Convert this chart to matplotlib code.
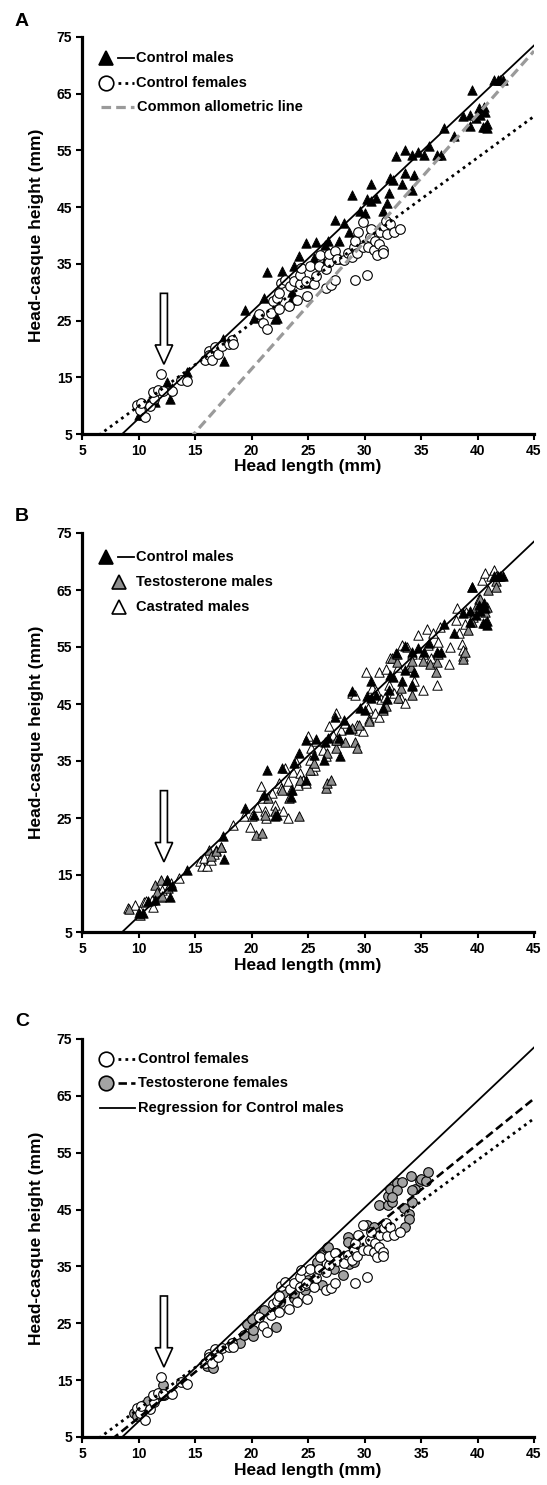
import matplotlib
matplotlib.use("Agg")
import matplotlib.pyplot as plt
from matplotlib.patches import FancyArrow
import numpy as np

plt.rcParams['font.family'] = ['Liberation Sans', 'DejaVu Sans']

# ---------------- data ----------------
ctrl_male_x = [10.0, 10.8, 12.5, 12.8, 13.0, 14.3, 17.5, 17.6, 19.4, 20.2, 21.1, 22.3, 21.4, 22.7,
               23.6, 23.5, 23.8, 24.2, 24.8, 25.7, 24.8, 25.5, 26.5, 26.8, 27.7, 28.6, 27.4, 28.2,
               29.6, 30.0, 30.2, 30.6, 31.6, 32.0, 28.9, 30.6, 31.0, 32.2, 32.3, 32.5, 33.3, 33.6,
               34.4, 34.2, 32.8, 33.6, 34.2, 34.7, 35.3, 35.7, 36.4, 36.8, 37.0, 37.9, 38.7, 39.3,
               39.3, 39.5, 39.9, 40.1, 40.2, 40.5, 40.6, 40.7, 40.7, 40.8, 40.8, 41.5, 41.8, 42.0,
               42.3, 10.4, 11.5, 22.1, 26.4, 27.8]
ctrl_male_y = [8.4, 10.5, 14.1, 11.2, 13.1, 15.9, 21.8, 17.8, 26.8, 25.5, 29.0, 25.5, 33.5, 33.7,
               30.0, 28.7, 34.6, 36.4, 38.7, 38.8, 31.6, 36.1, 38.4, 39.0, 39.0, 40.6, 42.8, 42.2,
               44.3, 44.0, 46.4, 46.0, 44.3, 45.8, 47.2, 49.0, 46.6, 47.5, 50.1, 49.8, 49.0, 51.0,
               50.7, 48.1, 54.0, 55.1, 54.2, 54.8, 54.2, 55.7, 54.2, 54.2, 59.0, 57.5, 61.0, 61.3,
               59.3, 65.6, 60.7, 62.4, 61.3, 59.2, 62.7, 61.8, 59.2, 59.6, 58.9, 67.5, 67.5, 67.5,
               67.5, 8.3, 10.7, 25.3, 35.2, 35.8]

ctrl_female_x = [9.9, 10.1, 10.2, 10.6, 11.0, 11.4, 11.3, 11.7, 12.0, 12.2, 13.0, 13.8, 14.3, 15.9,
                 16.2, 16.2, 16.5, 16.8, 17.0, 17.4, 18.0, 18.3, 18.4, 20.7, 21.0, 21.4, 21.7, 21.9,
                 22.3, 22.4, 22.6, 22.4, 23.0, 23.3, 23.4, 23.8, 24.0, 24.3, 24.3, 24.4, 24.8, 24.9,
                 25.2, 25.5, 25.7, 26.0, 26.1, 26.6, 26.6, 26.9, 26.9, 27.0, 27.4, 27.4, 27.6, 28.2,
                 28.5, 28.9, 29.1, 29.2, 29.3, 29.2, 29.4, 29.9, 30.2, 30.3, 30.5, 30.6, 30.8, 30.9,
                 31.1, 31.3, 31.4, 31.6, 31.7, 31.9, 32.0, 32.3, 32.6, 33.1, 31.6, 29.9]
ctrl_female_y = [10.1, 9.3, 10.4, 8.0, 9.9, 11.1, 12.4, 12.8, 15.5, 12.5, 12.5, 14.6, 14.3, 18.1,
                 19.6, 19.0, 18.1, 20.4, 19.1, 20.6, 20.9, 21.6, 20.8, 26.1, 24.6, 23.5, 26.4, 28.4,
                 29.0, 29.8, 31.6, 27.0, 32.2, 27.5, 31.1, 32.0, 28.7, 31.4, 33.1, 34.3, 32.0, 29.3,
                 34.6, 31.4, 32.9, 34.6, 36.6, 30.8, 34.1, 35.3, 36.8, 31.2, 32.1, 37.3, 35.9, 35.6,
                 37.0, 36.2, 37.9, 32.1, 36.9, 39.1, 40.6, 37.9, 33.1, 37.9, 39.7, 41.1, 37.5, 39.1,
                 36.6, 38.5, 40.6, 37.5, 41.7, 42.6, 40.3, 42.0, 40.6, 41.1, 36.9, 42.3]

testo_male_x = [9.2, 10.1, 11.5, 11.6, 12.0, 12.1, 12.6, 16.2, 16.4, 16.9, 17.3, 20.4, 20.9, 21.2,
                21.5, 22.1, 22.7, 23.3, 24.2, 24.3, 25.2, 25.5, 26.6, 26.7, 27.0, 26.7, 27.5, 27.5,
                28.3, 28.9, 29.2, 29.3, 29.5, 30.4, 31.6, 31.9, 33.0, 34.2, 34.2, 33.2, 32.4, 32.9,
                34.1, 34.2, 35.2, 35.8, 36.4, 36.3, 36.5, 38.7, 38.9, 39.2, 39.5, 39.9, 40.2, 40.7,
                40.8, 40.9, 41.6, 41.6, 41.6, 32.9]
testo_male_y = [9.0, 8.0, 13.3, 12.1, 14.2, 11.4, 12.7, 19.4, 18.3, 19.2, 20.0, 22.1, 22.4, 25.6,
                28.5, 26.2, 30.0, 28.5, 25.3, 31.7, 33.5, 34.6, 30.3, 31.1, 31.7, 36.4, 37.3, 38.7,
                38.4, 40.8, 38.4, 37.3, 41.4, 42.0, 44.0, 44.6, 46.1, 46.6, 48.4, 47.8, 53.0, 52.4,
                51.5, 52.6, 52.6, 52.1, 52.4, 50.6, 53.8, 52.9, 54.1, 57.9, 59.4, 62.1, 63.5, 61.2,
                62.1, 65.0, 66.5, 67.4, 65.6, 53.8]

castr_male_x = [9.1, 9.7, 10.1, 10.5, 10.7, 11.3, 11.2, 12.0, 12.1, 12.5, 12.9, 13.6, 15.4, 15.6,
                15.8, 16.1, 16.4, 16.7, 16.9, 17.3, 18.4, 19.3, 19.9, 20.0, 20.5, 20.8, 20.9, 21.2,
                21.3, 21.8, 22.1, 22.4, 22.6, 22.8, 23.0, 23.2, 23.2, 23.5, 23.7, 23.9, 24.1, 24.3,
                24.6, 24.8, 25.0, 25.2, 25.3, 25.4, 25.6, 25.7, 26.3, 26.6, 26.9, 27.2, 27.5, 27.6,
                27.9, 28.3, 28.9, 29.2, 29.3, 29.5, 29.9, 30.3, 30.4, 30.7, 30.9, 31.0, 31.3, 31.5,
                31.8, 32.2, 32.6, 33.2, 33.6, 34.4, 35.2, 36.4, 30.1, 31.3, 31.9, 32.3, 33.0, 33.3,
                33.8, 33.9, 34.2, 34.7, 35.2, 35.5, 35.6, 35.9, 36.1, 36.5, 36.7, 37.5, 37.6, 38.1,
                38.2, 38.4, 38.6, 38.7, 38.7, 39.0, 39.5, 39.6, 40.1, 40.4, 40.7, 41.2, 41.5, 38.9]
castr_male_y = [9.2, 9.8, 8.9, 10.2, 10.4, 9.3, 10.7, 11.1, 12.4, 14.2, 13.6, 14.5, 17.4, 16.6,
                18.0, 16.5, 17.7, 18.6, 19.3, 19.9, 23.8, 25.3, 23.5, 25.3, 26.9, 30.7, 28.5, 26.2,
                25.0, 29.4, 27.3, 31.1, 30.3, 26.2, 33.8, 25.0, 31.5, 30.0, 33.0, 34.9, 30.8, 32.9,
                31.7, 31.1, 39.3, 35.2, 37.3, 33.4, 34.2, 38.5, 37.0, 35.8, 41.1, 39.6, 43.4, 38.7,
                40.5, 41.7, 46.9, 46.5, 41.4, 40.5, 40.2, 44.3, 42.3, 47.8, 43.4, 47.2, 42.8, 45.8,
                46.3, 48.4, 46.9, 46.1, 45.2, 49.0, 47.5, 48.4, 50.6, 50.6, 51.2, 53.0, 51.5, 55.3,
                55.0, 51.5, 53.8, 57.1, 53.8, 58.2, 55.3, 53.0, 57.4, 55.9, 58.5, 52.1, 55.0, 59.7,
                61.8, 57.4, 55.6, 54.4, 53.5, 61.2, 65.6, 60.3, 63.5, 66.8, 67.9, 67.4, 68.5, 59.1]

testo_female_x = [9.6, 9.9, 10.5, 10.8, 12.2, 12.3, 12.1, 16.1, 16.6, 16.4, 19.0, 19.3, 19.6, 20.1,
                  20.1, 20.0, 20.8, 21.1, 22.2, 22.5, 22.8, 23.8, 23.8, 24.1, 24.7, 24.8, 25.0, 25.8,
                  25.8, 26.2, 26.2, 26.7, 26.8, 27.3, 27.5, 28.1, 28.5, 28.5, 28.6, 29.0, 29.1, 30.2,
                  30.8, 31.3, 32.1, 32.4, 33.5, 33.9, 33.9, 33.6, 34.2, 31.3, 32.1, 32.3, 32.9, 33.3,
                  34.1, 34.5, 34.9, 35.0, 35.4, 35.6, 32.9, 34.2, 32.4]
testo_female_y = [9.2, 8.7, 10.7, 11.3, 14.2, 12.4, 12.4, 17.4, 17.1, 18.9, 21.5, 23.0, 24.9, 22.7,
                  23.8, 25.7, 26.8, 27.3, 24.3, 28.8, 30.3, 29.4, 30.4, 32.3, 30.8, 31.7, 32.6, 35.2,
                  35.8, 37.0, 31.7, 38.2, 38.5, 34.6, 37.3, 33.5, 40.2, 39.3, 35.5, 37.6, 35.8, 42.3,
                  42.0, 45.8, 45.8, 46.3, 45.2, 44.3, 43.4, 42.0, 46.3, 41.1, 47.3, 48.7, 49.6, 49.9,
                  50.9, 48.7, 50.1, 50.3, 50.1, 51.6, 48.5, 48.4, 47.2]

# regression lines: (slope, intercept)
male_line = (1.880, -11.09)
female_line = (1.460, -4.69)
common_line = (2.243, -28.41)
testo_female_line = (1.604, -7.67)

x_ticks = [5, 10, 15, 20, 25, 30, 35, 40, 45]
y_ticks = [5, 15, 25, 35, 45, 55, 65, 75]

# ---------------- figure ----------------
W, H = 547, 1485
fig = plt.figure(figsize=(W / 100, H / 100), dpi=100)

left = 82 / W
width = 452 / W
panels = [(434, 397, 'A', 37), (932, 399, 'B', 533), (1437, 398, 'C', 1039)]
letter_y = [22, 517, 1022]

GRAY_T = '#8e8e8e'
GRAY_C = '#a3a3a3'
TICK_FS = 10
LAB_FS = 12.5
LEG_FS = 10.5

xx = np.linspace(5, 45, 200)


def line_y(p):
    return p[0] * xx + p[1]


def setup(ax):
    ax.set_xlim(5, 45)
    ax.set_ylim(5, 75)
    ax.set_xticks(x_ticks)
    ax.set_yticks(y_ticks)
    for s in ['top', 'right']:
        ax.spines[s].set_visible(False)
    for s in ['left', 'bottom']:
        ax.spines[s].set_linewidth(2.3)
    ax.tick_params(direction='out', length=4, width=1.5, labelsize=TICK_FS, pad=3)
    for lab in ax.get_xticklabels() + ax.get_yticklabels():
        lab.set_fontweight('bold')
    ax.set_xlabel('Head length (mm)', fontsize=LAB_FS, fontweight='bold')
    ax.set_ylabel('Head-casque height (mm)', fontsize=LAB_FS, fontweight='bold')
    ax.xaxis.set_label_coords(0.5, -0.083)
    ax.xaxis.label.set_va('center')
    ax.yaxis.set_label_coords(-0.10, 0.5)
    ax.yaxis.label.set_va('center')
    arr = FancyArrow(12.25, 29.8, 0, -12.5, width=0.62, head_width=1.55, head_length=3.4,
                     length_includes_head=True, fc='white', ec='black', lw=1.2, zorder=6)
    ax.add_patch(arr)


def leg_row(ax, y, label, marker=None, mfc=None, mx=0.053, line=None, lx=(0.080, 0.115), tx=0.120):
    if line is not None:
        ax.plot(list(lx), [y, y], transform=ax.transAxes, clip_on=False, **line)
    if marker is not None:
        ax.plot([mx], [y], marker=marker, ms=10.5, mfc=mfc, mec='black', mew=1.2,
                transform=ax.transAxes, clip_on=False, linestyle='none')
    ax.text(tx, y, label, transform=ax.transAxes, va='center', ha='left',
            fontsize=LEG_FS, fontweight='bold')


axes = []
for (bot, hgt, letter, top), ly in zip(panels, letter_y):
    ax = fig.add_axes([left, 1 - bot / H, width, hgt / H])
    axes.append(ax)
    fig.text(22 / W, 1 - ly / H, letter, fontsize=14, fontweight='bold', ha='center', va='center')

solid = dict(color='black', lw=1.3, linestyle='-')
dotted = dict(color='black', lw=2.0, linestyle=(0, (1, 1.5)))
gdash = dict(color='#9a9a9a', lw=2.3, linestyle=(0, (3, 1.6)))
bdash = dict(color='black', lw=1.9, linestyle=(0, (3.2, 1.6)))

# Panel A
ax = axes[0]
setup(ax)
ax.scatter(ctrl_male_x, ctrl_male_y, marker='^', s=46, c='black', edgecolors='black', lw=0.6, zorder=3)
ax.scatter(ctrl_female_x, ctrl_female_y, marker='o', s=48, c='white', edgecolors='black', lw=0.8, zorder=3)
ax.plot(xx, line_y(male_line), zorder=4, **solid)
ax.plot(xx, line_y(female_line), zorder=4, **dotted)
ax.plot(xx, line_y(common_line), zorder=4, **gdash)
leg_row(ax, 0.947, 'Control males', marker='^', mfc='black', line=solid)
leg_row(ax, 0.884, 'Control females', marker='o', mfc='white', line=dotted)
leg_row(ax, 0.824, 'Common allometric line', line=gdash, lx=(0.041, 0.115), tx=0.121)

# Panel B
ax = axes[1]
setup(ax)
ax.scatter(castr_male_x, castr_male_y, marker='^', s=46, c='white', edgecolors='black', lw=0.7, zorder=3)
ax.scatter(testo_male_x, testo_male_y, marker='^', s=46, c=GRAY_T, edgecolors='black', lw=0.7, zorder=3)
ax.scatter(ctrl_male_x, ctrl_male_y, marker='^', s=46, c='black', edgecolors='black', lw=0.6, zorder=3)
ax.plot(xx, line_y(male_line), zorder=4, **solid)
leg_row(ax, 0.940, 'Control males', marker='^', mfc='black', line=solid)
leg_row(ax, 0.877, 'Testosterone males', marker='^', mfc=GRAY_T, mx=0.081)
leg_row(ax, 0.815, 'Castrated males', marker='^', mfc='white', mx=0.081)

# Panel C
ax = axes[2]
setup(ax)
ax.scatter(testo_female_x, testo_female_y, marker='o', s=48, c=GRAY_C, edgecolors='black', lw=0.8, zorder=3)
ax.scatter(ctrl_female_x, ctrl_female_y, marker='o', s=48, c='white', edgecolors='black', lw=0.8, zorder=3)
ax.plot(xx, line_y(male_line), zorder=4, **solid)
ax.plot(xx, line_y(female_line), zorder=4, **dotted)
ax.plot(xx, line_y(testo_female_line), zorder=4, **bdash)
leg_row(ax, 0.950, 'Control females', marker='o', mfc='white', line=dotted, lx=(0.080, 0.118), tx=0.123)
leg_row(ax, 0.889, 'Testosterone females', marker='o', mfc=GRAY_C, line=bdash, lx=(0.080, 0.118), tx=0.123)
leg_row(ax, 0.827, 'Regression for Control males', line=solid, lx=(0.040, 0.118), tx=0.123)

fig.savefig('out.png', dpi=100)
